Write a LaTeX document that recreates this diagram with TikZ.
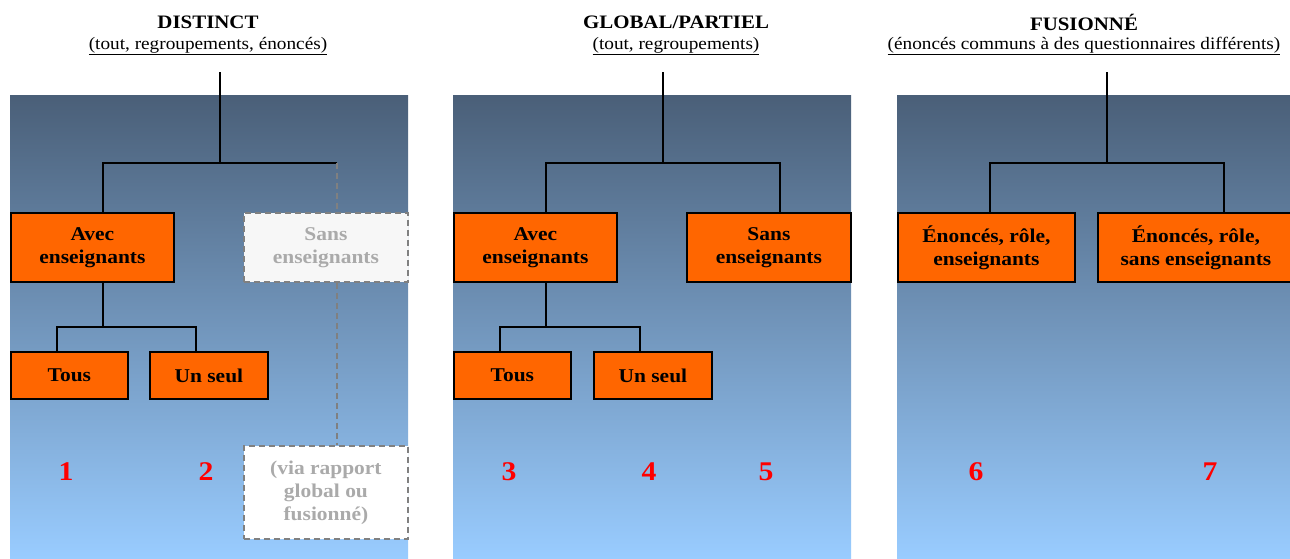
\documentclass[tikz,border=0pt]{standalone}
\usepackage{fontspec}
\setmainfont{Liberation Serif}[FakeStretch=1.1]
\definecolor{panTop}{RGB}{74,95,120}
\definecolor{panBot}{RGB}{153,204,255}
\definecolor{boxOr}{RGB}{255,102,0}
\definecolor{ghostFill}{RGB}{247,247,247}
\definecolor{ghostText}{RGB}{170,170,170}
\definecolor{ghostLine}{RGB}{128,128,128}
\definecolor{numRed}{RGB}{255,0,0}
\begin{document}
\begin{tikzpicture}[x=1pt,y=-1pt,
  obox/.style={draw=black, line width=1.8pt, fill=boxOr, font=\fontsize{19.5}{23}\selectfont\bfseries,
     align=center, inner sep=0pt, anchor=north west},
  gbox/.style={draw=ghostLine, line width=1.8pt, dash pattern=on 6pt off 4pt, fill=ghostFill, text=ghostText,
     font=\fontsize{19.5}{23}\selectfont\bfseries, align=center, inner sep=0pt, anchor=north west},
  conn/.style={draw=black, line width=1.8pt},
  gconn/.style={draw=ghostLine, line width=1.8pt, dash pattern=on 6pt off 4pt},
  num/.style={text=numRed, font=\fontsize{27}{30}\selectfont\bfseries, inner sep=0pt},
  head/.style={font=\fontsize{19}{22}\selectfont\bfseries, inner sep=0pt},
  sub/.style={font=\fontsize{17.5}{20}\selectfont, inner sep=0pt}]
\useasboundingbox (0,0) rectangle (1290,558);
\clip (0,0) rectangle (1290,558);
\fill[white] (0,0) rectangle (1290,558);
% panels
\shade[top color=panTop,bottom color=panBot] (10,95) rectangle (408,558);
\shade[top color=panTop,bottom color=panBot] (453,95) rectangle (851,558);
\shade[top color=panTop,bottom color=panBot] (897,95) rectangle (1290,558);
% headers
\node[head] (h1) at (208,22) {DISTINCT};
\node[sub] (s1) at (208,46) {\underline{(tout, regroupements, énoncés)}};
\node[head] (h2) at (676,22) {GLOBAL/PARTIEL};
\node[sub] (s2) at (676,46) {\underline{(tout, regroupements)}};
\node[head] (h3) at (1084,22) {FUSIONNÉ};
\node[sub] (s3) at (1084,46) {\underline{(énoncés communs à des questionnaires différents)}};
% ---------- panel 1
\node[obox, minimum width=163pt, minimum height=69pt] (avec1) at (10,212) {Avec\\enseignants};
\node[gbox, minimum width=164pt, minimum height=69pt] (sans1) at (243,212) {Sans\\enseignants};
\node[obox, minimum width=117pt, minimum height=47pt] (tous1) at (10,351) {Tous};
\node[obox, minimum width=118pt, minimum height=47pt] (un1) at (149,351) {Un seul};
\node[gbox, fill=white, minimum width=164pt, minimum height=93pt] (via1) at (243,445) {(via rapport\\global ou\\fusionné)};
\coordinate (t1) at (220,72);
\coordinate (j1) at (220,163);
\coordinate (a1) at (103,212);
\coordinate (c1) at (337,163);
\draw[conn] (t1) -- (j1);
\draw[conn] (a1) |- (c1);
\draw[gconn] (c1) -- (c1 |- sans1.north);
\draw[gconn] (c1 |- sans1.south) -- (c1 |- via1.north);
\coordinate (a1b) at (103,281);
\coordinate (k1) at (103,327);
\coordinate (tl1) at (57,351);
\coordinate (ul1) at (196,351);
\draw[conn] (a1b) -- (k1);
\draw[conn] (tl1) |- (ul1 |- k1) -- (ul1);
\node[num] (n1) at (66,472) {1};
\node[num] (n2) at (206,472) {2};
% ---------- panel 2
\node[obox, minimum width=163pt, minimum height=69pt] (avec2) at (453,212) {Avec\\enseignants};
\node[obox, minimum width=164pt, minimum height=69pt] (sans2) at (686,212) {Sans\\enseignants};
\node[obox, minimum width=117pt, minimum height=47pt] (tous2) at (453,351) {Tous};
\node[obox, minimum width=118pt, minimum height=47pt] (un2) at (593,351) {Un seul};
\coordinate (t2) at (663,72);
\coordinate (j2) at (663,163);
\coordinate (a2) at (546,212);
\coordinate (c2) at (780,212);
\draw[conn] (t2) -- (j2);
\draw[conn] (a2) |- (j2) -| (c2);
\coordinate (a2b) at (546,281);
\coordinate (k2) at (546,327);
\coordinate (tl2) at (500,351);
\coordinate (ul2) at (640,351);
\draw[conn] (a2b) -- (k2);
\draw[conn] (tl2) |- (ul2 |- k2) -- (ul2);
\node[num] (n3) at (509,472) {3};
\node[num] (n4) at (649,472) {4};
\node[num] (n5) at (766,472) {5};
% ---------- panel 3
\node[obox, minimum width=177pt, minimum height=69pt] (en3) at (897,212) {Énoncés, rôle,\\enseignants};
\node[obox, minimum width=196pt, minimum height=69pt] (sn3) at (1097,212) {Énoncés, rôle,\\sans enseignants};
\coordinate (t3) at (1107,72);
\coordinate (j3) at (1107,163);
\coordinate (a3) at (990,212);
\coordinate (c3) at (1224,212);
\draw[conn] (t3) -- (j3);
\draw[conn] (a3) |- (j3) -| (c3);
\node[num] (n6) at (976,472) {6};
\node[num] (n7) at (1210,472) {7};
\end{tikzpicture}
\end{document}
